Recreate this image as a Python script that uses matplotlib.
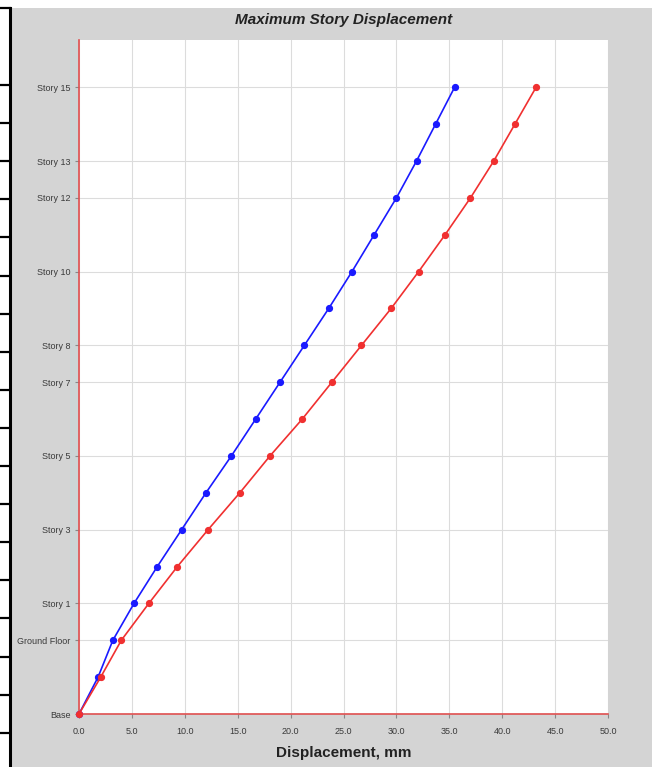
import matplotlib
matplotlib.use("Agg")
import matplotlib.pyplot as plt
from matplotlib.lines import Line2D
from matplotlib.patches import Rectangle

# ---- data ----
levels = ["Base", "Basement", "Ground Floor", "Story 1", "Story 2", "Story 3", "Story 4",
          "Story 5", "Story 6", "Story 7", "Story 8", "Story 9", "Story 10", "Story 11",
          "Story 12", "Story 13", "Story 14", "Story 15"]
elevations = [0, 3, 6, 9, 12, 15, 18, 21, 24, 27, 30, 33, 36, 39, 42, 45, 48, 51]
disp_x = [0.0, 1.8, 3.2, 5.2, 7.4, 9.7, 12.0, 14.4, 16.7, 19.0, 21.3, 23.6, 25.8, 27.9,
          30.0, 31.9, 33.7, 35.5]
disp_y = [0.0, 2.05, 4.0, 6.6, 9.3, 12.2, 15.2, 18.05, 21.1, 23.9, 26.7, 29.5, 32.1, 34.6,
          37.0, 39.2, 41.2, 43.2]
labeled_levels = ["Base", "Ground Floor", "Story 1", "Story 3", "Story 5", "Story 7",
                  "Story 8", "Story 10", "Story 12", "Story 13", "Story 15"]
x_ticks = [0, 5, 10, 15, 20, 25, 30, 35, 40, 45, 50]

W, H = 659, 767
fig = plt.figure(figsize=(W / 100, H / 100), dpi=100)
fig.patch.set_facecolor("white")

def fx(px):
    return px / W

def fy(py):
    return 1 - py / H

# gray panel background
fig.patches.append(Rectangle((fx(12), 0), fx(652) - fx(12), fy(8), transform=fig.transFigure,
                             facecolor="#d4d4d4", edgecolor="none", zorder=-10))
# thin bluish strip left of the plot area
fig.patches.append(Rectangle((fx(70), fy(714)), fx(79) - fx(70), fy(40) - fy(714),
                             transform=fig.transFigure, facecolor="#ccd5d6",
                             edgecolor="none", zorder=-9))
# left decorative border with ticks
fig.lines.append(Line2D([fx(10), fx(10)], [0, fy(8)], transform=fig.transFigure,
                        color="black", lw=2.2, zorder=-5))
border_ticks = [8] + [85 + 38.1 * i for i in range(18)]
for ty in border_ticks:
    fig.lines.append(Line2D([0, fx(10)], [fy(ty), fy(ty)], transform=fig.transFigure,
                            color="black", lw=1.6, zorder=-5))

ax = fig.add_axes([fx(79), fy(714), fx(608) - fx(79), fy(40) - fy(714)])
ax.set_facecolor("white")

ax.plot(disp_x, elevations, color="#1a1aff", lw=1.2, marker="o", ms=4.2, zorder=3,
        clip_on=False)
ax.plot(disp_y, elevations, color="#f03030", lw=1.2, marker="o", ms=4.2, zorder=3,
        clip_on=False)

ax.set_xlim(0, 50)
ax.set_ylim(0, 54.85)
ax.set_xticks(x_ticks)
ax.set_xticklabels([f"{v:.1f}" for v in x_ticks])
ytick_pos = [elevations[levels.index(n)] for n in labeled_levels]
ax.set_yticks(ytick_pos)
ax.set_yticklabels(labeled_levels)

for t in ax.get_xticklabels() + ax.get_yticklabels():
    t.set_fontfamily("Liberation Sans")
    t.set_fontsize(6.5)
    t.set_color("#3a3a3a")

ax.tick_params(axis="both", direction="out", length=3, width=0.8, color="#888888")
ax.tick_params(axis="x", pad=6)
ax.tick_params(axis="y", pad=3)
ax.grid(True, color="#dcdcdc", lw=0.8)
ax.set_axisbelow(True)
for s in ["top", "right"]:
    ax.spines[s].set_visible(False)
for s in ["left", "bottom"]:
    ax.spines[s].set_color("#e05050")
    ax.spines[s].set_linewidth(1.2)

fig.text(fx(343.5), fy(20), "Maximum Story Displacement", ha="center", va="center",
         family="Liberation Sans", fontsize=11, fontweight="bold", style="italic",
         color="#222222")
fig.text(fx(343.5), fy(753), "Displacement, mm", ha="center", va="center",
         family="Liberation Sans", fontsize=11, fontweight="bold", color="#222222")

fig.savefig("out.png", dpi=100)
